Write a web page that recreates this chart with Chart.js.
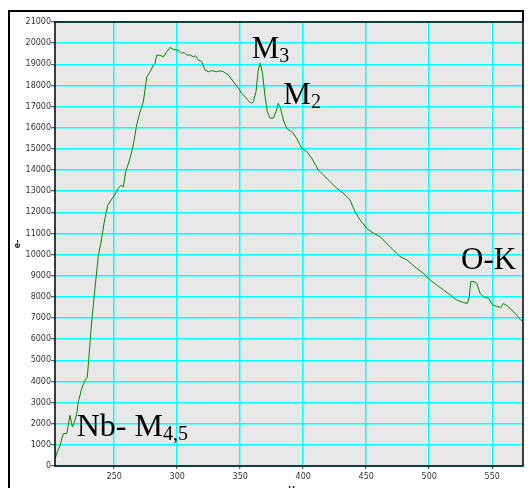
<!DOCTYPE html>
<html>
<head>
<meta charset="utf-8">
<script src="https://cdn.jsdelivr.net/npm/chart.js@4/dist/chart.umd.min.js"></script>
<style>
  html, body { margin: 0; padding: 0; background: #ffffff; }
  #c { display: block; }
</style>
</head>
<body>
<canvas id="c" width="531" height="488"></canvas>
<script>
// ---- data ----
const energyEV = [
  203.0, 205.0, 207.0, 209.6, 212.3, 214.9, 216.8, 218.9, 220.2, 221.5,
  224.2, 226.8, 228.6, 229.4, 232.1, 234.7, 237.4, 240.0, 242.1, 244.8,
  247.4, 250.1, 253.2, 255.4, 257.2, 259.1, 262.5, 265.1, 267.8, 270.5,
  273.1, 275.8, 278.4, 281.0, 282.4, 283.7, 286.4, 289.0, 291.7, 294.3,
  297.0, 299.6, 301.5, 303.6, 305.5, 307.6, 310.2, 312.8, 314.5, 316.8,
  319.4, 322.0, 324.7, 327.3, 331.3, 334.0, 336.6, 340.6, 344.5, 348.5,
  351.2, 353.8, 356.4, 359.1, 360.4, 362.5, 364.3, 365.9, 367.7, 369.7,
  371.5, 373.6, 376.3, 378.4, 380.2, 382.0, 384.2, 386.9, 389.5, 391.5,
  394.8, 398.8, 402.8, 406.7, 412.0, 416.0, 421.3, 426.6, 431.9, 437.1,
  441.1, 445.1, 450.4, 455.7, 460.9, 466.2, 471.5, 476.8, 482.1, 485.5,
  490.0, 495.3, 500.6, 505.9, 511.2, 516.5, 521.8, 527.1, 530.2, 531.8,
  532.9, 535.5, 537.7, 540.3, 543.0, 546.9, 550.4, 554.1, 556.8, 558.8,
  562.0, 565.5, 569.4, 572.6, 573.5
];
const electrons = [
  350, 700, 980, 1530, 1530, 2400, 1845, 2160, 2470, 3030,
  3660, 4050, 4200, 4760, 6810, 8390, 9960, 10750, 11540, 12330,
  12570, 12800, 13120, 13280, 13200, 13910, 14540, 15170, 16120, 16750,
  17220, 18400, 18640, 18950, 19030, 19430, 19430, 19350, 19590, 19800,
  19700, 19680, 19640, 19520, 19560, 19440, 19440, 19360, 19400, 19200,
  19130, 18730, 18650, 18700, 18650, 18690, 18650, 18490, 18180, 17870,
  17630, 17470, 17280, 17150, 17230, 17700, 18730, 19050, 18570, 17470,
  16760, 16450, 16450, 16760, 17150, 16920, 16370, 15970, 15850, 15780,
  15500, 15030, 14870, 14560, 14000, 13770, 13450, 13140, 12900, 12580,
  12030, 11640, 11240, 11010, 10850, 10530, 10220, 9900, 9750, 9580,
  9350, 9120, 8800, 8560, 8330, 8090, 7850, 7730, 7690, 8010,
  8720, 8720, 8640, 8170, 8010, 7930, 7620, 7540, 7500, 7690,
  7570, 7380, 7140, 6900, 6880
];
const xTicks = [250, 300, 350, 400, 450, 500, 550];
const yTicks = [0, 1000, 2000, 3000, 4000, 5000, 6000, 7000, 8000, 9000, 10000,
  11000, 12000, 13000, 14000, 15000, 16000, 17000, 18000, 19000, 20000, 21000];
const xTitle = 'eV';
const yTitle = 'e-';
// peak labels, anchored in data coordinates (eV, e-)
const peakText = ['M', 'M', 'O-K', 'Nb- M'];
const peakSub = ['3', '2', '', '4,5'];
const peakEV = [359.1, 384.2, 525.2, 220.2];
const peakE = [19286, 17124, 9319, 1419];

const deco = {
  id: 'deco',
  beforeDraw(chart) {
    const { ctx, chartArea: a } = chart;
    ctx.save();
    ctx.fillStyle = '#e8e8e8';
    ctx.fillRect(a.left, a.top, a.right - a.left, a.bottom - a.top);
    ctx.restore();
  },
  afterDraw(chart) {
    const { ctx, chartArea: a, scales } = chart;
    ctx.save();
    // plot border
    ctx.strokeStyle = '#000';
    ctx.lineWidth = 1.5;
    ctx.strokeRect(a.left, a.top, a.right - a.left, a.bottom - a.top);
    // outer frame
    ctx.lineWidth = 2;
    ctx.beginPath();
    ctx.moveTo(9, 490);
    ctx.lineTo(9, 11);
    ctx.lineTo(a.right, 11);
    ctx.lineTo(a.right, a.top);
    ctx.stroke();
    // axis titles
    ctx.fillStyle = '#222';
    ctx.font = 'bold 8px "DejaVu Sans"';
    ctx.textAlign = 'center';
    ctx.textBaseline = 'middle';
    ctx.fillText(xTitle, (a.left + a.right) / 2, 491);
    ctx.save();
    ctx.translate(18, (a.top + a.bottom) / 2);
    ctx.rotate(-Math.PI / 2);
    ctx.fillText(yTitle, 0, 0);
    ctx.restore();
    // peak labels
    ctx.fillStyle = '#000';
    ctx.textAlign = 'left';
    ctx.textBaseline = 'alphabetic';
    for (let i = 0; i < peakText.length; i++) {
      const px = scales.x.getPixelForValue(peakEV[i]);
      const py = scales.y.getPixelForValue(peakE[i]);
      const big = i === 3 ? 32 : 31;
      ctx.font = big + 'px "Liberation Serif"';
      ctx.fillText(peakText[i], px, py);
      const w = ctx.measureText(peakText[i]).width;
      if (peakSub[i]) {
        ctx.font = '20px "Liberation Serif"';
        ctx.fillText(peakSub[i], px + w, py + 4);
      }
    }
    ctx.restore();
  }
};

const tickFont = { family: '"DejaVu Sans"', size: 8 };

new Chart(document.getElementById('c'), {
  type: 'line',
  data: {
    datasets: [{
      data: energyEV.map((x, i) => ({ x: x, y: electrons[i] })),
      borderColor: '#008a00',
      borderWidth: 1,
      pointRadius: 0,
      tension: 0,
      fill: false
    }]
  },
  options: {
    responsive: false,
    animation: false,
    devicePixelRatio: 1,
    parsing: false,
    layout: { padding: { left: 0, top: 22, right: 8, bottom: 0 } },
    plugins: { legend: { display: false }, tooltip: { enabled: false } },
    scales: {
      x: {
        type: 'linear',
        min: 203,
        max: 574.4,
        afterBuildTicks: s => { s.ticks = xTicks.map(v => ({ value: v })); },
        afterFit: s => { s.height = 22; },
        grid: { color: '#00ffff', lineWidth: 1.5, tickLength: 3, tickColor: '#333', tickWidth: 1 },
        border: { display: false },
        ticks: { font: tickFont, color: '#333', padding: 3, maxRotation: 0, autoSkip: false,
                 callback: v => String(v) }
      },
      y: {
        type: 'linear',
        min: 0,
        max: 21000,
        afterBuildTicks: s => { s.ticks = yTicks.map(v => ({ value: v })); },
        afterFit: s => { s.width = 55; },
        grid: { color: '#00ffff', lineWidth: 1.5, tickLength: 4, tickColor: '#333', tickWidth: 1 },
        border: { display: false },
        ticks: { font: tickFont, color: '#333', padding: 0, autoSkip: false,
                 callback: v => String(v) }
      }
    }
  },
  plugins: [deco]
});
</script>
</body>
</html>
